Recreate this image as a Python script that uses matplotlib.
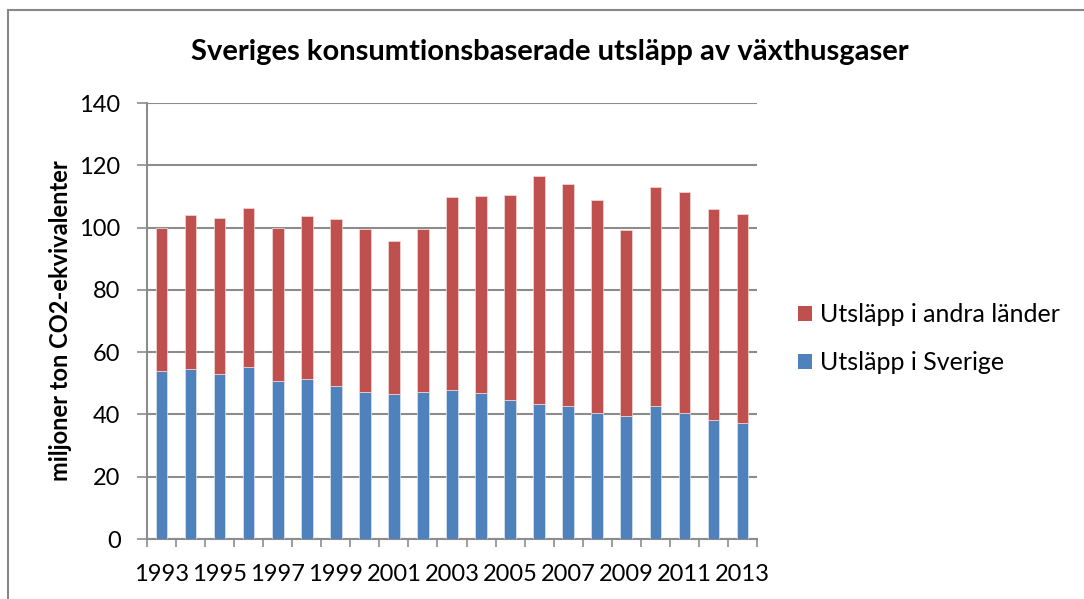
import matplotlib.pyplot as plt
from matplotlib.patches import Rectangle, Patch
import numpy as np

plt.rcParams['font.family'] = ['Lato', 'DejaVu Sans']

years = list(range(1993, 2014))
sverige = [54.1, 54.7, 52.9, 55.3, 50.7, 51.5, 49.1, 47.1, 46.5, 47.1, 47.9,
           47.0, 44.5, 43.3, 42.8, 40.5, 39.5, 42.8, 40.5, 38.3, 37.4]
totalt = [100.0, 104.1, 103.1, 106.2, 99.8, 103.8, 102.8, 99.6, 95.6, 99.6, 109.8,
          110.0, 110.6, 116.5, 114.1, 108.9, 99.1, 113.0, 111.5, 106.0, 104.5]
andra = [t - s for t, s in zip(totalt, sverige)]

blue = '#4F81BD'
red = '#C0504D'
grid_col = '#8C8C8C'

fig = plt.figure(figsize=(10.84, 5.99), dpi=100)
ax = fig.add_axes([147 / 1084, 1 - 539 / 599, 610 / 1084, 436 / 599])

x = np.arange(len(years))
ax.bar(x, sverige, width=0.4, color=blue, edgecolor='#DCE6F2', linewidth=0.5, zorder=3)
ax.bar(x, andra, width=0.4, bottom=sverige, color=red, edgecolor='#F2DCDB', linewidth=0.5, zorder=3)

ax.set_xlim(-0.5, len(years) - 0.5)
ax.set_ylim(0, 140)
ax.set_yticks(range(0, 141, 20))
ax.yaxis.grid(True, color=grid_col, linewidth=1.5, zorder=0)
ax.set_axisbelow(True)

# labels on every other year, tick marks between categories
ax.set_xticks(x[::2])
ax.set_xticklabels([str(y) for y in years[::2]])
ax.set_xticks(np.arange(-0.5, len(years), 1), minor=True)
ax.tick_params(axis='x', which='major', length=0, pad=18, labelsize=17)
ax.tick_params(axis='x', which='minor', length=6, width=1.2, color=grid_col)
ax.tick_params(axis='y', length=7, width=1.2, color=grid_col, labelsize=17, pad=12)

for side in ['top', 'right']:
    ax.spines[side].set_visible(False)
for side in ['left', 'bottom']:
    ax.spines[side].set_color(grid_col)
    ax.spines[side].set_linewidth(1.5)

ax.set_ylabel('miljoner ton CO2-ekvivalenter', fontsize=17, fontweight='bold', labelpad=5)

fig.text(0.507, 1 - 52 / 599, 'Sveriges konsumtionsbaserade utsläpp av växthusgaser',
         ha='center', va='center', fontsize=21, fontweight='bold')

handles = [Patch(facecolor=red, label='Utsläpp i andra länder'),
           Patch(facecolor=blue, label='Utsläpp i Sverige')]
fig.legend(handles=handles, loc='center left', bbox_to_anchor=(798 / 1084, 1 - 339 / 599),
           frameon=False, fontsize=18, handlelength=0.55, handleheight=0.55,
           handletextpad=0.35, labelspacing=1.0, borderaxespad=0, borderpad=0)

# chart border
fig.patches.append(Rectangle((8 / 1084, -0.05), 1.1, 1 - 10 / 599 + 0.05,
                             transform=fig.transFigure, fill=False,
                             edgecolor='#888888', linewidth=1.5))

fig.savefig('out.png', dpi=100)
